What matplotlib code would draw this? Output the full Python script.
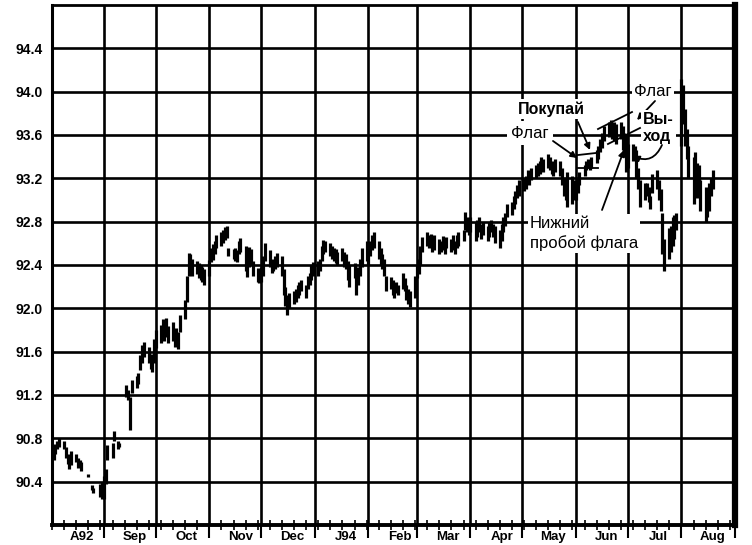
import matplotlib
matplotlib.use("Agg")
import matplotlib.pyplot as plt
import matplotlib.dates as mdates
import matplotlib.transforms as mtransforms
import numpy as np
import pandas as pd

plt.rcParams["font.family"] = ["Liberation Sans", "DejaVu Sans"]

# ── данные ────────────────────────────────────────────────────────────────────

N = None

MONTH_STARTS = ["1993-08-01", "1993-09-01", "1993-10-01", "1993-11-01",
                "1993-12-01", "1994-01-01", "1994-02-01", "1994-03-01",
                "1994-04-01", "1994-05-01", "1994-06-01", "1994-07-01",
                "1994-08-01"]
MONTH_LABELS = ["A92", "Sep", "Oct", "Nov", "Dec", "J94", "Feb",
                "Mar", "Apr", "May", "Jun", "Jul", "Aug"]
Y_TICKS = [90.4, 90.8, 91.2, 91.6, 92.0, 92.4, 92.8, 93.2, 93.6, 94.0, 94.4]

hi_aug93 = [90.74, 90.72, 90.75, 90.78, 90.80, 90.78, 90.72, 90.66, 90.62, 90.68, 90.66,
            90.62, 90.60, 90.58, N, 90.47, N, 90.37, 90.34, N, 90.38, 90.40]
lo_aug93 = [90.62, 90.60, 90.66, 90.70, 90.72, 90.70, 90.62, 90.56, 90.52, 90.55, 90.58,
            90.53, 90.55, 90.50, N, 90.44, N, 90.32, 90.30, N, 90.26, 90.24]

hi_sep93 = [90.45, 90.52, 90.74, 90.76, 90.87, N, 90.78, 90.76, N, 91.29, 91.25,
            91.18, 91.34, 91.38, 91.40, 91.57, 91.66, 91.69, 91.64, 91.58, 91.56, 91.72]
lo_sep93 = [90.24, 90.38, 90.60, 90.62, 90.78, N, 90.70, 90.72, N, 91.18, 91.15,
            90.88, 91.22, 91.26, 91.30, 91.43, 91.50, 91.55, 91.50, 91.44, 91.41, 91.50]

hi_oct93 = [91.80, 91.85, 91.90, 91.88, 91.91, 91.84, 91.87, 91.80, 91.82, 91.78, 91.94,
            92.08, 92.30, 92.51, 92.50, 92.46, 92.44, 92.42, 92.40, 92.38, 92.36]
lo_oct93 = [91.63, 91.68, 91.72, 91.70, 91.74, 91.68, 91.70, 91.64, 91.66, 91.62, 91.78,
            91.90, 92.06, 92.30, 92.36, 92.30, 92.32, 92.28, 92.26, 92.24, 92.22]

hi_nov93 = [92.45, 92.56, 92.59, 92.62, 92.68, 92.70, 92.72, 92.75, 92.76, 92.56, 92.55,
            92.56, 92.54, 92.62, 92.65, 92.58, 92.52, 92.57, 92.55, 92.44, 92.37, 92.36]
lo_nov93 = [92.30, 92.43, 92.45, 92.50, 92.56, 92.58, 92.60, 92.63, 92.65, 92.48, 92.46,
            92.44, 92.43, 92.50, 92.52, 92.34, 92.29, 92.38, 92.40, 92.30, 92.24, 92.23]

hi_dec93 = [92.38, 92.48, 92.60, 92.54, 92.46, 92.45, 92.48, 92.51, 92.48, 92.36, 92.20, 92.12,
            92.14, 92.16, 92.18, 92.22, 92.24, 92.26, 92.22, 92.30, 92.33, 92.40, 92.43]
lo_dec93 = [92.24, 92.30, 92.44, 92.38, 92.33, 92.34, 92.36, 92.38, 92.30, 92.12, 92.02, 91.94,
            92.00, 92.04, 92.06, 92.10, 92.12, 92.16, 92.10, 92.18, 92.22, 92.26, 92.30]

hi_jan94 = [92.44, 92.46, 92.58, 92.63, 92.62, 92.60, 92.58, 92.56, 92.55, 92.52, 92.56,
            92.52, 92.50, 92.44, 92.40, 92.42, 92.36, 92.38, 92.46, 92.56, 92.62]
lo_jan94 = [92.30, 92.34, 92.44, 92.50, 92.52, 92.48, 92.46, 92.44, 92.42, 92.40, 92.44,
            92.38, 92.36, 92.26, 92.20, 92.28, 92.12, 92.22, 92.30, 92.38, 92.44]

hi_feb94 = [92.58, 92.62, 92.68, 92.70, 92.62, 92.56, 92.50, 92.46, 92.30, 92.29,
            92.26, 92.22, 92.24, 92.22, 92.33, 92.28, 92.22, 92.18, 92.16, 92.30]
lo_feb94 = [92.40, 92.48, 92.54, 92.56, 92.46, 92.40, 92.36, 92.30, 92.16, 92.18,
            92.12, 92.10, 92.14, 92.12, 92.18, 92.16, 92.08, 92.04, 92.01, 92.10]

hi_mar94 = [92.40, 92.46, 92.58, 92.66, 92.70, 92.68, 92.69, 92.66, 92.68, 92.64, 92.62, 92.67,
            92.62, 92.66, 92.64, 92.68, 92.62, 92.68, 92.70, 92.72, 92.89, 92.84, 92.80]
lo_mar94 = [92.28, 92.32, 92.40, 92.52, 92.58, 92.56, 92.58, 92.52, 92.54, 92.50, 92.52, 92.54,
            92.50, 92.56, 92.52, 92.54, 92.50, 92.56, 92.58, 92.62, 92.72, 92.70, 92.68]

hi_apr94 = [92.84, 92.80, 92.82, 92.84, 92.78, 92.80, 92.76, 92.80, 92.82, 92.78, 92.76,
            92.72, 92.78, 92.84, 92.88, 92.96, 92.98, 93.04, 93.08, 93.14, 93.18]
lo_apr94 = [92.70, 92.62, 92.66, 92.70, 92.64, 92.68, 92.62, 92.66, 92.70, 92.66, 92.60,
            92.56, 92.62, 92.70, 92.76, 92.84, 92.86, 92.92, 92.96, 93.02, 93.04]

hi_may94 = [93.20, 93.22, 93.28, 93.26, 93.30, 93.32, 93.34, 93.36, 93.40, 93.38, 93.42,
            93.40, 93.36, 93.34, 93.38, 93.36, 93.30, 93.20, 93.18, 93.26, 93.22, 93.18]
lo_may94 = [93.08, 93.10, 93.16, 93.14, 93.18, 93.20, 93.22, 93.24, 93.28, 93.26, 93.30,
            93.28, 93.24, 93.22, 93.26, 93.22, 93.14, 93.04, 93.00, 92.94, 92.96, 93.00]

hi_jun94 = [93.16, 93.20, 93.26, 93.32, 93.36, 93.38, 93.36, 93.40, 93.46, 93.50, 93.56,
            93.62, 93.68, 93.72, 93.74, 93.70, 93.72, 93.70, 93.72, 93.68, 93.62, 93.60]
lo_jun94 = [93.00, 93.06, 93.14, 93.22, 93.28, 93.30, 93.28, 93.30, 93.34, 93.38, 93.44,
            93.48, 93.54, 93.58, 93.60, 93.56, 93.54, 93.52, 93.56, 93.46, 93.40, 93.26]

hi_jul94 = [93.52, 93.52, 93.50, 93.46, 93.30, 93.18, 93.16, 93.16, 93.12, 93.04, 93.24,
            93.28, 93.18, 93.10, 92.88, 92.64, 92.74, 92.76, 92.84, 92.86, 92.88]
lo_jul94 = [93.30, 93.36, 93.38, 93.20, 93.10, 92.94, 93.00, 93.04, 92.98, 92.92, 93.06,
            93.10, 93.00, 92.90, 92.50, 92.34, 92.46, 92.52, 92.58, 92.64, 92.72]

hi_aug94 = [94.12, 94.06, 93.84, 93.66, 93.50, 93.40, 93.44, 93.34, 93.32, 93.18, 93.12,
            93.10, 93.16, 93.20, 93.28]
lo_aug94 = [93.50, 93.70, 93.50, 93.38, 93.20, 92.96, 93.08, 93.02, 93.10, 92.90, 92.80,
            92.84, 92.90, 93.04, 93.10]

HIGHS = [hi_aug93, hi_sep93, hi_oct93, hi_nov93, hi_dec93, hi_jan94, hi_feb94,
         hi_mar94, hi_apr94, hi_may94, hi_jun94, hi_jul94, hi_aug94]
LOWS = [lo_aug93, lo_sep93, lo_oct93, lo_nov93, lo_dec93, lo_jan94, lo_feb94,
        lo_mar94, lo_apr94, lo_may94, lo_jun94, lo_jul94, lo_aug94]

# ── сборка баров по рабочим дням ──────────────────────────────────────────────

dates, highs, lows = [], [], []
for start, hi, lo in zip(MONTH_STARTS, HIGHS, LOWS):
    days = pd.bdate_range(start=start, periods=len(hi))
    for d, h, l in zip(days, hi, lo):
        if h is None:
            continue
        dates.append(d)
        highs.append(h)
        lows.append(l)

x = mdates.date2num(pd.to_datetime(dates).to_pydatetime())

# ── график ────────────────────────────────────────────────────────────────────

fig = plt.figure(figsize=(7.52, 5.45), dpi=100)
ax = fig.add_axes([52 / 752, 20 / 545, 683 / 752, 520 / 545])

ax.vlines(x, lows, highs, color="black", lw=2.3, zorder=3)

ax.set_xlim(mdates.datestr2num("1993-08-02"), mdates.datestr2num("1994-09-01"))
ax.set_ylim(90.0, 94.8)

ax.xaxis.set_major_locator(mdates.MonthLocator())
ax.xaxis.set_minor_locator(mdates.WeekdayLocator(byweekday=mdates.MO))
ax.set_yticks(Y_TICKS)
ax.set_yticklabels([f"{v:.1f}" for v in Y_TICKS], fontweight="bold", fontsize=10)

ax.grid(True, which="major", color="black", lw=1.9, zorder=1)
ax.tick_params(axis="y", length=0, pad=7)
ax.tick_params(axis="x", which="major", direction="out", length=9, width=1.5,
               labelbottom=False)
ax.tick_params(axis="x", which="minor", direction="inout", length=7, width=1.2)

for side, lw in [("left", 2.2), ("bottom", 2.8), ("top", 2.0), ("right", 4.5)]:
    ax.spines[side].set_linewidth(lw)
    ax.spines[side].set_zorder(4)

trans = mtransforms.blended_transform_factory(ax.transData, ax.transAxes)
for start, label in zip(MONTH_STARTS, MONTH_LABELS):
    pos = mdates.datestr2num(start[:8] + "19")
    ax.text(pos, -0.012, label, transform=trans, ha="center", va="top",
            fontsize=9.5, fontweight="bold")

# ── подписи ───────────────────────────────────────────────────────────────────

white = dict(facecolor="white", edgecolor="none", pad=1.5)
arrow = dict(arrowstyle="-|>", color="black", lw=1.3, mutation_scale=9,
             shrinkA=0, shrinkB=0)

ax.text(0.7306, 0.80, "Покупай", transform=ax.transAxes, ha="center", va="center",
        fontsize=11.5, fontweight="bold", bbox=white, zorder=5)
ax.annotate("", xy=(0.7877, 0.7212), xytext=(0.770, 0.775),
            xycoords="axes fraction", arrowprops=arrow, zorder=5)

ax.text(0.6999, 0.7538, "Флаг", transform=ax.transAxes, ha="center", va="center",
        fontsize=12, bbox=dict(facecolor="white", edgecolor="none", pad=3), zorder=5)
ax.annotate("", xy=(0.7687, 0.7058), xytext=(0.7335, 0.7385),
            xycoords="axes fraction", arrowprops=arrow, zorder=5)

ax.text(0.880, 0.8327, "Флаг", transform=ax.transAxes, ha="center", va="center",
        fontsize=12, bbox=white, zorder=5)
ax.annotate("", xy=(0.8565, 0.7788), xytext=(0.8829, 0.8154),
            xycoords="axes fraction", arrowprops=arrow, zorder=5)

ax.text(0.8653, 0.7635, "Вы-\nход", transform=ax.transAxes, ha="left", va="center",
        fontsize=11.5, fontweight="bold", linespacing=1.2, bbox=white, zorder=5)
ax.annotate("", xy=(0.8507, 0.7096), xytext=(0.8931, 0.7308),
            xycoords="axes fraction", zorder=5,
            arrowprops=dict(arrow, connectionstyle="arc3,rad=-0.5"))

ax.text(0.6999, 0.5606, "Нижний\nпробой флага", transform=ax.transAxes,
        ha="left", va="center", fontsize=12, linespacing=1.35, bbox=white, zorder=5)
ax.annotate("", xy=(0.8375, 0.7212), xytext=(0.8053, 0.6058),
            xycoords="axes fraction", arrowprops=arrow, zorder=5)

# линии флагов
flag_lines = [((0.7701, 0.6865), (0.7994, 0.6865)),
              ((0.7701, 0.7115), (0.7964, 0.7154)),
              ((0.7994, 0.7615), (0.8492, 0.7942)),
              ((0.8140, 0.7327), (0.8609, 0.7635))]
for (x0, y0), (x1, y1) in flag_lines:
    ax.plot([x0, x1], [y0, y1], transform=ax.transAxes, color="black", lw=1.3, zorder=5)

fig.savefig("out.png", dpi=100)
